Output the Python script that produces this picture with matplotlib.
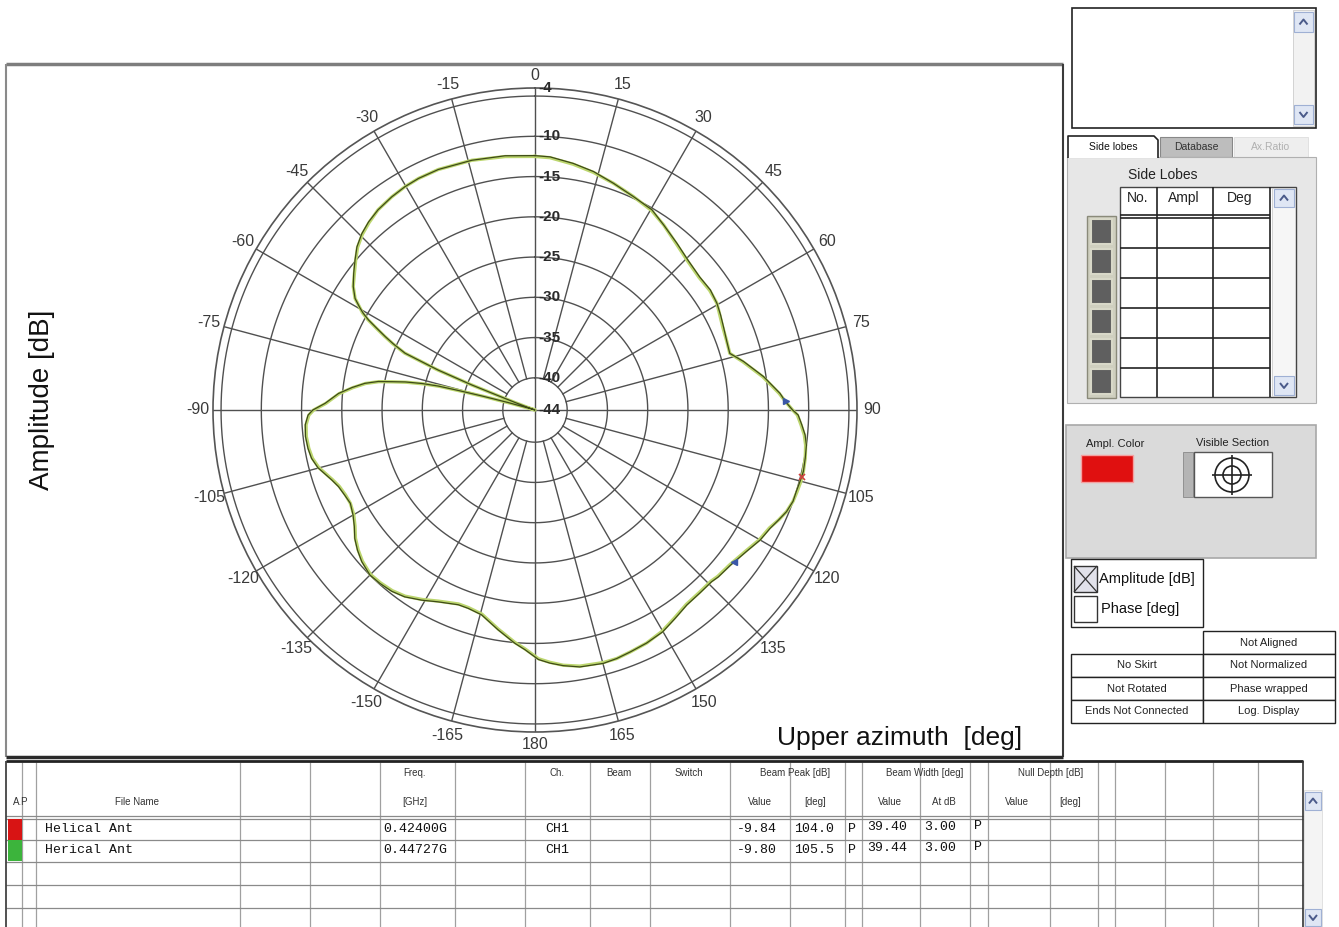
import matplotlib
matplotlib.use('Agg')
import numpy as np
import matplotlib.pyplot as plt
from matplotlib.patches import Rectangle, Circle

# ---- pattern data (angle clockwise from top, amplitude in dB) ----
angles_deg = [0, 3.4, 8.8, 13.8, 19.1, 24.7, 30.3, 34.8, 40.4, 45.6, 51.1, 55.6,
              59.6, 62.9, 66.1, 70.4, 73.8, 76.9, 81.7, 86.1, 88.0, 90.0, 91.1,
              93.2, 95.3, 97.4, 100.1, 102.9, 105, 107.3, 109.5, 112, 114.3, 116.7,
              120, 123.8, 128.5, 132.3, 134.2, 138, 142.1, 146.1, 150.1, 154.4,
              158.5, 161.8, 164.9, 170.1, 173.7, 176.6, 179.2, 182.4, 184.9, 189.5,
              194.6, 198.6, 201.5, 206.8, 210.8, 214.9, 218.3, 221.8, 225, 228.8,
              231.7, 234.5, 237.2, 240, 243.2, 245.9, 248.7, 251, 255.1, 257.8,
              260.4, 263.4, 266.3, 268.7, 270, 271.8, 274.8, 277.0, 278.9, 280.3,
              281.2, 282.2, 283.2, 283.9, 284.3, 284.8, 285.5, 286.8, 288, 289.5,
              290.6, 291.2, 291.6, 292.4, 293.6, 295, 296.1, 297.3, 298.4, 299.4,
              300.3, 301.8, 304.2, 307, 309.8, 312.5, 315.5, 318.5, 321.9, 326.1,
              329.8, 333.3, 338.1, 345.8, 353.3, 360]
amp_red = [-12.4, -12.5, -13.0, -13.5, -14.2, -14.8, -15.2, -16.0, -16.8, -17.4,
           -17.7, -17.6, -17.8, -18.1, -18.4, -18.7, -18.8, -17.4, -15.3, -13.5,
           -12.9, -12.0, -11.3, -10.8, -10.3, -10.0, -9.9, -9.8, -9.9, -10.0,
           -10.0, -10.3, -10.8, -11.3, -11.7, -12.4, -13.0, -13.2, -13.4, -13.4,
           -13.3, -12.8, -12.2, -11.9, -11.7, -11.5, -11.4, -11.6, -12.05, -12.5,
           -13.0, -14.2, -14.9, -16.3, -17.7, -18.0, -18.0, -17.3, -16.5, -15.7,
           -15.3, -15.1, -15.0, -15.4, -15.9, -16.5, -17.3, -17.9, -18.3, -18.1,
           -17.8, -17.3, -16.1, -15.6, -15.4, -15.3, -15.4, -15.8, -16.4, -17.9,
           -19.5, -21.1, -22.6, -24.2, -25.9, -27.5, -29.6, -31.6, -34.2, -37.2,
           -40.5, -43.5, -44.0, -43.5, -41.5, -39.5, -35.6, -31.0, -26.4, -24.6,
           -23.3, -21.9, -20.5, -19.5, -18.8, -17.7, -16.7, -15.8, -14.9, -14.0,
           -13.3, -12.8, -12.4, -12.1, -11.9, -11.8, -11.8, -12.0, -12.2, -12.4]
amp_green = [-12.5, -12.6, -13.1, -13.6, -14.2, -14.8, -15.3, -16.0, -16.9, -17.5,
             -17.8, -17.7, -17.8, -18.2, -18.5, -18.7, -18.8, -17.5, -15.4, -13.6,
             -12.9, -12.0, -11.4, -10.9, -10.4, -10.1, -9.9, -9.8, -9.8, -9.9,
             -10.0, -10.3, -10.8, -11.4, -11.8, -12.5, -13.1, -13.3, -13.5, -13.5,
             -13.4, -12.9, -12.3, -11.9, -11.7, -11.5, -11.5, -11.7, -12.1, -12.6,
             -13.1, -14.3, -15.0, -16.4, -17.8, -18.1, -18.1, -17.4, -16.6, -15.8,
             -15.4, -15.2, -15.1, -15.5, -16.0, -16.6, -17.4, -18.0, -18.3, -18.2,
             -17.9, -17.4, -16.2, -15.7, -15.5, -15.4, -15.5, -15.9, -16.5, -18.0,
             -19.6, -21.2, -22.7, -24.3, -26.0, -27.7, -29.8, -31.8, -34.5, -37.5,
             -41.0, -43.8, -44.0, -43.0, -41.0, -39.0, -35.3, -30.8, -26.3, -24.5,
             -23.2, -21.8, -20.4, -19.4, -18.8, -17.7, -16.7, -15.9, -15.0, -14.1,
             -13.4, -12.9, -12.4, -12.1, -11.9, -11.8, -11.8, -12.0, -12.3, -12.5]

r_min, r_max = -44, -4
ring_levels = [-40, -35, -30, -25, -20, -15, -10, -5]
ring_labels = [-4, -10, -15, -20, -25, -30, -35, -40, -44]
spoke_step = 15

# ---- table data ----
file_names = ['Helical Ant', 'Herical Ant']
freqs = ['0.42400G', '0.44727G']
channels = ['CH1', 'CH1']
peak_vals = [-9.84, -9.80]
peak_degs = [104.0, 105.5]
bw_vals = [39.40, 39.44]
bw_at = [3.00, 3.00]
bw_edges = [88.0, 127.4]
trace_colors = ['#d81414', '#3cb43c']

status_left = ['', 'No Skirt', 'Not Rotated', 'Ends Not Connected']
status_right = ['Not Aligned', 'Not Normalized', 'Phase wrapped', 'Log. Display']
lobe_headers = ['No.', 'Ampl', 'Deg']

fig = plt.figure(figsize=(13.39, 9.27), dpi=100)
bg = fig.add_axes([0, 0, 1, 1])
bg.set_xlim(0, 1339)
bg.set_ylim(927, 0)
bg.axis('off')

SANS = 'Liberation Sans'


def rect(x0, y0, x1, y1, fc='none', ec='#222222', lw=1.0, z=1):
    bg.add_patch(Rectangle((x0, y0), x1 - x0, y1 - y0, facecolor=fc,
                           edgecolor=ec, linewidth=lw, zorder=z))


def line(xs, ys, c='#333333', lw=1.0, z=2):
    bg.plot(xs, ys, color=c, lw=lw, zorder=z, solid_capstyle='butt')


def txt(x, y, s, size=8, ha='center', c='#222222', family=SANS, **kw):
    bg.text(x, y, s, fontsize=size, ha=ha, va='center', color=c,
            family=family, zorder=5, **kw)


def scroll_btn(x0, y0, x1, y1, up=True):
    rect(x0, y0, x1, y1, fc='#dfe6f4', ec='#9fb0d4', lw=0.8, z=3)
    cx, cy = (x0 + x1) / 2, (y0 + y1) / 2
    d = 2.5 if up else -2.5
    line([cx - 4, cx, cx + 4], [cy + d, cy - d, cy + d], c='#4a5a8a', lw=1.4, z=4)


# ---- main plot frame ----
line([6, 1063], [64, 64], c='#7d7d7d', lw=2.5)
line([6, 6], [64, 757], c='#8a8a8a', lw=1.5)
line([1063, 1063], [64, 757], c='#3a3a3a', lw=1.5)
line([6, 1063], [757, 757], c='#2a2a2a', lw=2.5)
txt(42, 400, 'Amplitude [dB]', size=20, c='#111111', rotation=90)
txt(900, 738, 'Upper azimuth  [deg]', size=19, c='#111111')

# ---- polar chart ----
cx, cy, rad = 535, 410, 322
ax = fig.add_axes([(cx - rad) / 1339, (927 - cy - rad) / 927,
                   2 * rad / 1339, 2 * rad / 927], projection='polar')
ax.set_theta_zero_location('N')
ax.set_theta_direction(-1)
ax.set_ylim(r_min, r_max)
ax.grid(False)
ax.set_xticks([])
ax.set_yticks([])
ax.spines['polar'].set_color('#555555')
ax.spines['polar'].set_linewidth(1.2)

full = np.linspace(0, 2 * np.pi, 721)
for lv in ring_levels:
    ax.plot(full, np.full_like(full, lv), color='#505050', lw=1.0, zorder=1)
for a in range(0, 360, spoke_step):
    r0 = r_min if a % 90 == 0 else ring_levels[0]
    ax.plot([np.radians(a)] * 2, [r0, r_max], color='#505050', lw=1.0, zorder=1)

for a in range(0, 360, spoke_step):
    lab = a if a <= 180 else a - 360
    rr = -2.5 if a in (0, 180) else -2.1
    ax.text(np.radians(a), rr, str(lab), fontsize=11.5, family=SANS,
            color='#3a3a3a', ha='center', va='center', clip_on=False)
for lv in ring_labels:
    ax.annotate(str(lv), xy=(0, lv), xytext=(2.5, 0), textcoords='offset points',
                fontsize=11, family=SANS, color='#2a2a2a', ha='left',
                va='center', fontweight='bold', annotation_clip=False)

th = np.radians(angles_deg)
ax.plot(th, amp_green, color='#bcd66e', lw=2.4, zorder=3)
ax.plot(th, amp_red, color='#3e4a18', lw=0.9, zorder=4)
ax.plot(np.radians(peak_degs[0]), peak_vals[0], marker='x', ms=5, mew=1.2,
        color='#d04040', zorder=5)
lvl = peak_vals[0] - bw_at[0]
ax.plot(np.radians(bw_edges[0]), lvl, marker='>', ms=5, color='#3b58a8', zorder=5)
ax.plot(np.radians(bw_edges[1]), lvl, marker='<', ms=5, color='#3b58a8', zorder=5)

# ---- right panel: list box and tabs ----
rect(1072, 8, 1316, 128, fc='white', ec='#222222', lw=1.2)
rect(1293, 10, 1314, 126, fc='#f2f2f2', ec='#cccccc', lw=0.6, z=2)
scroll_btn(1294, 12, 1313, 32, up=True)
scroll_btn(1294, 105, 1313, 124, up=False)

rect(1234, 137, 1308, 157, fc='#eeeeee', ec='#dddddd', lw=0.6)
txt(1271, 147, 'Ax.Ratio', size=7.5, c='#b0b0b0')
rect(1160, 137, 1232, 157, fc='#bdbdbd', ec='#888888', lw=0.8)
txt(1196, 147, 'Database', size=7.5, c='#333333')
rect(1067, 157, 1316, 403, fc='#e7e7e7', ec='#b0b0b0', lw=0.8)
rect(1068, 134, 1158, 158, fc='white', ec='none', lw=0)
line([1068, 1068, 1154, 1158, 1158], [158, 136, 136, 140, 158], c='#222222', lw=1.2)
txt(1113, 147, 'Side lobes', size=7.5, c='#111111')

# side lobes table
txt(1163, 175, 'Side Lobes', size=10, c='#222222')
rect(1120, 187, 1296, 397, fc='white', ec='#444444', lw=1.0)
for x, h in zip([1138, 1184, 1240], lobe_headers):
    txt(x, 198, h, size=10, c='#222222')
for x in [1157, 1213, 1270]:
    line([x, x], [187, 397], c='#222222', lw=1.2)
line([1120, 1270], [215, 215], c='#222222', lw=1.2)
for y in [218, 248, 278, 308, 338, 368]:
    line([1120, 1270], [y, y], c='#222222', lw=1.2)
rect(1272, 188, 1295, 396, fc='#f6f6f6', ec='#cccccc', lw=0.6, z=2)
scroll_btn(1274, 189, 1294, 207, up=True)
scroll_btn(1274, 376, 1294, 395, up=False)
rect(1087, 216, 1116, 398, fc='#cfcfbf', ec='#8a8a7a', lw=1.0)
for i in range(6):
    y0 = 219 + i * 30
    rect(1091, y0, 1112, y0 + 25, fc='#5f5f5f', ec='#d8d8c8', lw=1.5, z=2)

# ampl colour panel
rect(1066, 425, 1316, 558, fc='#dadada', ec='#a8a8a8', lw=1.2)
txt(1115, 444, 'Ampl. Color', size=8, c='#222222')
rect(1081, 455, 1133, 482, fc='#e01010', ec='#f4a0a0', lw=1.0)
txt(1233, 443, 'Visible Section', size=8, c='#222222')
rect(1183, 452, 1193, 497, fc='#b4b4b4', ec='#888888', lw=0.6)
rect(1194, 452, 1272, 497, fc='white', ec='#555555', lw=1.0)
for rr in (17, 9):
    bg.add_patch(Circle((1232, 475), rr, facecolor='none', edgecolor='#222222',
                        lw=1.2, zorder=3))
line([1212, 1252], [475, 475], c='#222222', lw=1.2, z=3)
line([1232, 1232], [455, 495], c='#222222', lw=1.2, z=3)

# checkboxes
rect(1071, 559, 1203, 627, fc='white', ec='#222222', lw=1.0)
rect(1074, 566, 1097, 592, fc='#e2e2ea', ec='#333333', lw=1.0)
line([1074, 1097], [566, 592], c='#333333', lw=0.9, z=3)
line([1074, 1097], [592, 566], c='#333333', lw=0.9, z=3)
txt(1099, 579, 'Amplitude [dB]', size=10.5, ha='left', c='#111111')
rect(1074, 596, 1097, 622, fc='white', ec='#333333', lw=1.0)
txt(1101, 609, 'Phase [deg]', size=10.5, ha='left', c='#111111')

# status table
for i, (sl, sr) in enumerate(zip(status_left, status_right)):
    y0 = 631 + i * 23
    if sl:
        rect(1071, y0, 1203, y0 + 23, fc='white', ec='#222222', lw=1.0)
        txt(1137, y0 + 11.5, sl, size=8, c='#222222')
    rect(1203, y0, 1335, y0 + 23, fc='white', ec='#222222', lw=1.0)
    txt(1269, y0 + 11.5, sr, size=8, c='#222222')

# ---- bottom table ----
col_x = [22, 36, 240, 310, 380, 455, 525, 590, 650, 730, 790, 845, 862, 920,
         970, 988, 1050, 1098, 1115, 1165, 1213, 1258]
line([6, 1303], [761, 761], c='#222222', lw=2.0)
line([6, 6], [761, 927], c='#333333', lw=1.2)
line([1303, 1303], [761, 927], c='#333333', lw=1.2)
for x in col_x:
    line([x, x], [762, 927], c='#a0a0a0', lw=0.9, z=1)
for y in [816, 819, 840, 862, 885, 908]:
    line([6, 1303], [y, y], c='#8a8a8a', lw=0.9, z=1)
rect(1304, 790, 1322, 927, fc='#f4f4f4', ec='#dddddd', lw=0.6)
scroll_btn(1305, 792, 1321, 810, up=True)
scroll_btn(1305, 909, 1321, 926, up=False)

top_heads = [('Freq.', 415), ('Ch.', 557), ('Beam', 619), ('Switch', 689),
             ('Beam Peak [dB]', 795), ('Beam Width [deg]', 925),
             ('Null Depth [dB]', 1051)]
sub_heads = [('A.P', 21), ('File Name', 137), ('[GHz]', 415), ('Value', 760),
             ('[deg]', 815), ('Value', 890), ('At dB', 944), ('Value', 1017),
             ('[deg]', 1070)]
for s, x in top_heads:
    txt(x, 773, s, size=7, c='#333333')
for s, x in sub_heads:
    txt(x, 802, s, size=7, c='#333333')

MONO = 'Liberation Mono'
for i in range(len(file_names)):
    y = 829 + i * 21
    rect(8, y - 10, 22, y + 11, fc=trace_colors[i], ec='none', lw=0, z=2)
    txt(45, y, file_names[i], size=9.5, ha='left', c='#111111', family=MONO)
    txt(447, y, freqs[i], size=9.5, ha='right', c='#111111', family=MONO)
    txt(557, y, channels[i], size=9.5, c='#111111', family=MONO)
    txt(757, y, '%.2f' % peak_vals[i], size=9.5, c='#111111', family=MONO)
    txt(814, y, '%.1f' % peak_degs[i], size=9.5, c='#111111', family=MONO)
    txt(852, y, 'P', size=9.5, c='#111111', family=MONO)
    txt(887, y - 2, '%.2f' % bw_vals[i], size=9.5, c='#111111', family=MONO)
    txt(940, y - 2, '%.2f' % bw_at[i], size=9.5, c='#111111', family=MONO)
    txt(978, y - 3, 'P', size=9.5, c='#111111', family=MONO)

fig.savefig('out.png', dpi=100, facecolor='white')
